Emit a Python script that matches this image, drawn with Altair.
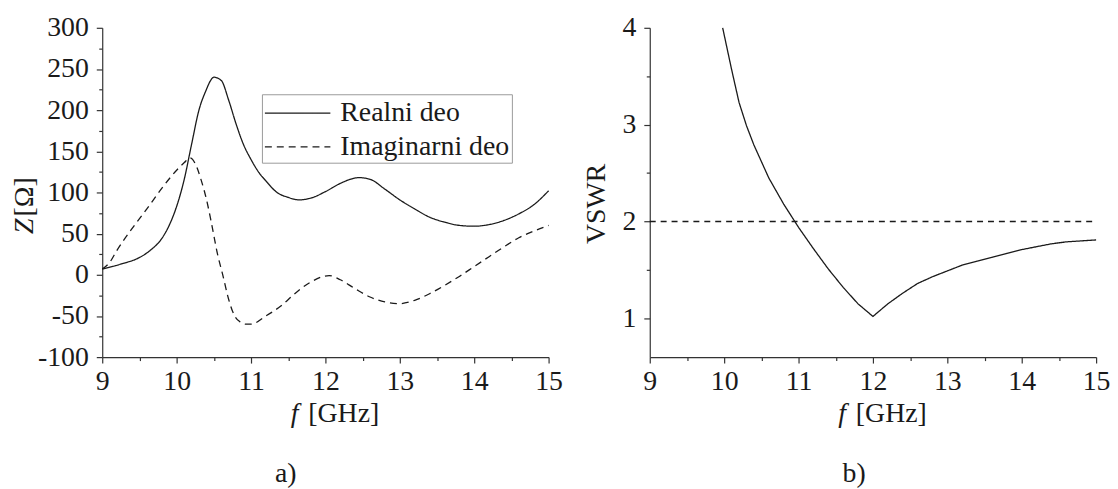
import altair as alt
import pandas as pd

# ---------------- data ----------------
freq_re = [9.0, 9.25, 9.5, 9.65, 9.8, 9.9, 10.0, 10.1, 10.2, 10.3, 10.4, 10.45, 10.5,
           10.6, 10.7, 10.8, 10.9, 11.0, 11.1, 11.2, 11.35, 11.5, 11.65, 11.8, 12.0,
           12.2, 12.45, 12.6, 12.8, 13.0, 13.2, 13.4, 13.6, 13.8, 14.0, 14.2, 14.4,
           14.6, 14.8, 15.0]
re_z = [7, 13, 21, 30, 44, 60, 83, 115, 158, 200, 225, 235, 240,
        236, 212, 183, 158, 140, 125, 114, 100, 94, 91, 93, 101,
        111, 118, 116, 104, 91, 80, 70, 64, 60, 59, 61, 66,
        74, 85, 102]

freq_im = [9.0, 9.1, 9.2, 9.4, 9.6, 9.8, 10.0, 10.1, 10.18, 10.25, 10.33, 10.4, 10.47,
           10.55, 10.62, 10.7, 10.78, 10.85, 10.93, 11.0, 11.2, 11.4, 11.6, 11.8,
           12.05, 12.2, 12.4, 12.6, 12.8, 13.0, 13.2, 13.4, 13.6, 13.8, 14.0, 14.2,
           14.4, 14.6, 14.8, 15.0]
im_z = [7, 15, 30, 56, 80, 105, 127, 136, 142, 135, 115, 92, 62,
        25, 0, -30, -50, -57, -60, -60, -50, -38, -22, -9,
        -1, -6, -17, -27, -33, -35, -31, -23, -13, -2, 10, 22,
        34, 45, 53, 60]

freq_v = [9.98, 10.1, 10.2, 10.3, 10.4, 10.5, 10.6, 10.8, 11.0, 11.2, 11.4, 11.6, 11.8,
          12.0, 12.2, 12.4, 12.6, 12.8, 13.0, 13.2, 13.4, 13.6, 13.8, 14.0, 14.2,
          14.4, 14.6, 14.8, 15.0]
vswr = [4.0, 3.57, 3.23, 2.99, 2.79, 2.62, 2.45, 2.18, 1.94, 1.72, 1.51, 1.32, 1.15,
        1.02, 1.15, 1.26, 1.36, 1.43, 1.49, 1.55, 1.59, 1.63, 1.67, 1.71, 1.74,
        1.77, 1.79, 1.80, 1.81]

limit_f = [9, 15]
limit_v = [2, 2]

series_z = ["Realni deo", "Imaginarni deo"]
series_v = ["VSWR", "granica"]

x_ticks = [9, 9.5, 10, 10.5, 11, 11.5, 12, 12.5, 13, 13.5, 14, 14.5, 15]
z_ticks = [-100, -75, -50, -25, 0, 25, 50, 75, 100, 125, 150, 175, 200, 225, 250, 275, 300]
v_ticks = [1, 1.5, 2, 2.5, 3, 3.5, 4]

sym_f = ["f"]
sym_z = ["Z"]

df_z = pd.concat([
    pd.DataFrame({"f": freq_re, "z": re_z, "s": series_z[0]}),
    pd.DataFrame({"f": freq_im, "z": im_z, "s": series_z[1]}),
], ignore_index=True)
df_v = pd.concat([
    pd.DataFrame({"f": freq_v, "v": vswr, "s": series_v[0]}),
    pd.DataFrame({"f": limit_f, "v": limit_v, "s": series_v[1]}),
], ignore_index=True)

FONT = "Liberation Serif"
INK = "#1a1a1a"
W, H = 450, 332
FS = 28


def minor_tick(step):
    return {"condition": {"test": f"datum.value % {step} != 0", "value": 3.5}, "value": 6}


def x_axis():
    return alt.Axis(
        values=x_ticks,
        labelExpr="datum.value % 1 ? '' : '' + datum.value",
        tickSize=minor_tick(1),
        labelFlush=False,
        labelOverlap=False,
        labelPadding=5,
        title="[GHz]",
        titleX=243, titleY=57,
        titleAlign="center", titleBaseline="middle",
    )


def italic_f():
    return alt.Chart(pd.DataFrame({"t": sym_f})).mark_text(
        font=FONT, fontSize=FS, fontStyle="italic", color=INK,
        align="center", baseline="middle",
    ).encode(text="t:N", x=alt.value(194), y=alt.value(H + 57))


lines_z = alt.Chart(df_z).mark_line(color=INK, strokeWidth=1.3, interpolate="monotone").encode(
    x=alt.X("f:Q", scale=alt.Scale(domain=[9, 15], nice=False, zero=False), axis=x_axis()),
    y=alt.Y("z:Q", scale=alt.Scale(domain=[-100, 300], nice=False, zero=False),
            axis=alt.Axis(
                values=z_ticks,
                labelExpr="datum.value % 50 ? '' : '' + datum.value",
                tickSize=minor_tick(50),
                labelOverlap=False,
                labelFlush=False,
                labelPadding=8,
                title="[Ω]",
                titleAngle=270, titleX=-78, titleY=170,
                titleAlign="center", titleBaseline="middle",
            )),
    strokeDash=alt.StrokeDash(
        "s:N",
        scale=alt.Scale(domain=series_z, range=[[1, 0], [7, 5]]),
        legend=alt.Legend(
            title=None, orient="none", legendX=161, legendY=67,
            symbolType="M-1,0H3.125", symbolSize=1024, symbolStrokeWidth=1.3,
            symbolStrokeColor=INK, labelFont=FONT, labelFontSize=FS,
            labelColor=INK, labelOffset=43, labelLimit=400, strokeColor="#9a9a9a",
            fillColor="white", padding=2, rowPadding=3,
        ),
    ),
)

italic_z = alt.Chart(pd.DataFrame({"t": sym_z})).mark_text(
    font=FONT, fontSize=FS, fontStyle="italic", color=INK,
    align="center", baseline="middle", angle=270,
).encode(text="t:N", x=alt.value(-78), y=alt.value(200))

left = alt.layer(lines_z, italic_f(), italic_z).properties(
    width=W, height=H,
    title=alt.TitleParams("a)", orient="bottom", anchor="middle", frame="group",
                          font=FONT, fontSize=FS, fontWeight="normal", color=INK,
                          offset=33, dx=-40),
)

lines_v = alt.Chart(df_v).mark_line(color=INK, strokeWidth=1.3).encode(
    x=alt.X("f:Q", scale=alt.Scale(domain=[9, 15], nice=False, zero=False), axis=x_axis()),
    y=alt.Y("v:Q", scale=alt.Scale(domain=[0.6, 4], nice=False, zero=False),
            axis=alt.Axis(
                values=v_ticks,
                labelExpr="datum.value % 1 ? '' : '' + datum.value",
                tickSize=minor_tick(1),
                labelOverlap=False,
                labelFlush=False,
                labelPadding=8,
                title="VSWR",
                titleAngle=270, titleX=-54, titleY=177,
                titleAlign="center", titleBaseline="middle",
            )),
    strokeDash=alt.StrokeDash("s:N", scale=alt.Scale(domain=series_v, range=[[1, 0], [6, 5]]),
                              legend=None),
)

right = alt.layer(lines_v, italic_f()).properties(
    width=W, height=H,
    title=alt.TitleParams("b)", orient="bottom", anchor="middle", frame="group",
                          font=FONT, fontSize=FS, fontWeight="normal", color=INK,
                          offset=33, dx=-19),
)

chart = alt.hconcat(left, right, spacing=20).resolve_scale(strokeDash="independent").properties(
    padding={"left": 3, "top": 4, "right": 0, "bottom": 0},
    background="white",
).configure_view(strokeWidth=0).configure_axis(
    grid=False,
    domainColor="#333333", domainWidth=1.2,
    tickColor="#333333", tickWidth=1.2,
    labelFont=FONT, labelFontSize=FS, labelColor=INK,
    titleFont=FONT, titleFontSize=FS, titleFontWeight="normal", titleColor=INK,
)

chart.save("out.html", embed_options={"renderer": "svg", "actions": False})
